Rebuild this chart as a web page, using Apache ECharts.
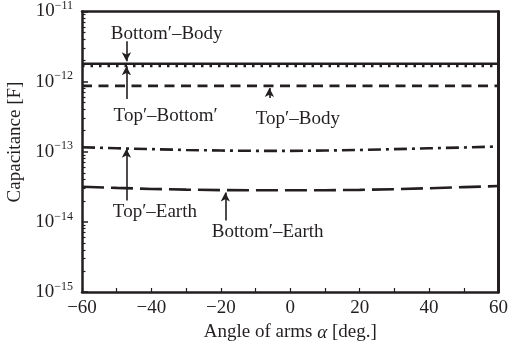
<!DOCTYPE html>
<html><head><meta charset="utf-8">
<script src="https://cdn.jsdelivr.net/npm/echarts@6/dist/echarts.min.js"></script>
<style>html,body{margin:0;padding:0;background:#fff}#c{width:511px;height:351px}</style>
</head><body><div id="c"></div>
<script>
// ---- data ----
const angles = [-60,-50,-40,-30,-20,-10,0,10,20,30,40,50,60];
const bottomBody  = [1.8e-12,1.8e-12,1.8e-12,1.8e-12,1.8e-12,1.8e-12,1.8e-12,1.8e-12,1.8e-12,1.8e-12,1.8e-12,1.8e-12,1.8e-12];
const topBottom   = [1.68e-12,1.68e-12,1.68e-12,1.68e-12,1.68e-12,1.68e-12,1.68e-12,1.68e-12,1.68e-12,1.68e-12,1.68e-12,1.68e-12,1.68e-12];
const topBody     = [0.87e-12,0.87e-12,0.87e-12,0.87e-12,0.87e-12,0.87e-12,0.87e-12,0.87e-12,0.87e-12,0.87e-12,0.87e-12,0.87e-12,0.87e-12];
const topEarth    = [1.16e-13,1.12e-13,1.09e-13,1.06e-13,1.04e-13,1.03e-13,1.03e-13,1.04e-13,1.06e-13,1.09e-13,1.12e-13,1.15e-13,1.19e-13];
const bottomEarth = [3.17e-14,3.05e-14,2.95e-14,2.88e-14,2.84e-14,2.82e-14,2.82e-14,2.83e-14,2.86e-14,2.92e-14,3.02e-14,3.13e-14,3.24e-14];
const seriesNames = ["Bottom′–Body","Top′–Bottom′","Top′–Body","Top′–Earth","Bottom′–Earth"];
const xTicks = [-60,-40,-20,0,20,40,60];
const yDecades = [1e-15,1e-14,1e-13,1e-12,1e-11];

// annotation text and arrows (in data coordinates)
const annotText = ["Bottom′–Body","Top′–Bottom′","Top′–Body","Top′–Earth","Bottom′–Earth"];
const annotTextAt = [[-35.6,4.72e-12],[-35.9,3.24e-13],[2.2,2.94e-13],[-39.0,1.36e-14],[-6.5,7.1e-15]];
const arrowFrom = [[-47.2,3.75e-12],[-47.2,5.65e-13],[-6.0,5.83e-13],[-47.2,2.02e-14],[-18.7,1.05e-14]];
const arrowTo   = [[-47.2,1.95e-12],[-47.2,1.66e-12],[-6.0,8.1e-13],[-47.2,1.10e-13],[-18.7,2.62e-14]];

// ---- chart ----
const FONT = '"Liberation Serif","Times New Roman",serif';
const INK = '#231f20';
const minorVals = [];
for (let e=-15;e<-11;e++) for (let k=2;k<=9;k++) minorVals.push(k*Math.pow(10,e));

const pair = (xs, ys) => xs.map((x,i)=>[x, ys[i]]);
const styles = [
  {type:'solid', width:2.6},
  {type:[2.5,6], width:2.6},
  {type:[10,6.5], width:2.6},
  {type:[13,5,3,5], width:2.6},
  {type:[22,7], width:2.6}
];
const datas = [bottomBody, topBottom, topBody, topEarth, bottomEarth];

const series = datas.map((d,i)=>({
  name: seriesNames[i], type:'line', symbol:'none', data: pair(angles,d),
  xAxisIndex:0, yAxisIndex:0,
  lineStyle:{color:INK, width:styles[i].width, type:styles[i].type},
  z: 3 + (i===1?1:0), animation:false
}));
series.push({
  type:'line', data:[], xAxisIndex:0, yAxisIndex:0, animation:false, silent:true,
  markLine:{
    silent:true, animation:false, symbol:['none','arrow'], symbolSize:[7,9],
    lineStyle:{color:INK, width:1.6, type:'solid'}, label:{show:false},
    data: arrowFrom.map((f,i)=>[{coord:f},{coord:arrowTo[i]}])
  },
  markPoint:{
    silent:true, animation:false, symbol:'rect', symbolSize:1,
    itemStyle:{color:'rgba(0,0,0,0)'},
    label:{show:true, position:'inside', color:INK, fontFamily:FONT, fontSize:19,
      formatter: p => p.name},
    data: annotText.map((t,i)=>({name:t, coord:annotTextAt[i]}))
  }
});

const chart = echarts.init(document.getElementById('c'), null, {renderer:'canvas'});
chart.setOption({
  animation:false,
  backgroundColor:'#fff',
  grid:{left:82, right:11, top:10, bottom:59, containLabel:false},
  xAxis:[{
    type:'value', min:-60, max:60, interval:20, position:'bottom',
    axisLine:{show:true, onZero:false, lineStyle:{color:INK, width:2.5}},
    axisTick:{show:true, inside:true, length:4, lineStyle:{color:INK, width:1.2}},
    minorTick:{show:true, splitNumber:2, length:4, lineStyle:{color:INK, width:1.2}},
    splitLine:{show:false},
    axisLabel:{color:INK, fontFamily:FONT, fontSize:19, margin:7,
      formatter: v => xTicks.includes(v) ? String(v).replace('-','−') : ''},
    name:'Angle of arms {i|α} [deg.]', nameLocation:'middle', nameGap:31,
    nameTextStyle:{color:INK, fontFamily:FONT, fontSize:19,
      rich:{i:{fontFamily:FONT, fontStyle:'italic', fontSize:19, color:INK}}}
  },{
    type:'value', min:-60, max:60, position:'top',
    axisLine:{show:true, onZero:false, lineStyle:{color:INK, width:2.5}},
    axisTick:{show:false}, axisLabel:{show:false}, splitLine:{show:false}
  }],
  yAxis:[{
    type:'log', logBase:10, min:1e-15, max:1e-11, position:'left',
    axisLine:{show:true, onZero:false, lineStyle:{color:INK, width:2.5}},
    axisTick:{show:true, inside:true, length:6, lineStyle:{color:INK, width:1.5}},
    splitLine:{show:false},
    axisLabel:{margin:9, color:INK, fontFamily:FONT,
      formatter: v => {
        const e = Math.round(Math.log10(v));
        return '{b|10}{s|−' + Math.abs(e) + '}';
      },
      rich:{
        b:{fontFamily:FONT, fontSize:19, color:INK},
        s:{fontFamily:FONT, fontSize:12, color:INK, padding:[0,0,11,0]}
      }
    }
  },{
    type:'log', logBase:10, min:1e-15, max:1e-11, position:'left',
    axisLine:{show:false, onZero:false},
    axisTick:{show:true, inside:true, length:3.5, customValues:minorVals, lineStyle:{color:INK, width:1.2}},
    axisLabel:{show:false}, splitLine:{show:false}
  },{
    type:'log', logBase:10, min:1e-15, max:1e-11, position:'right',
    axisLine:{show:true, onZero:false, lineStyle:{color:INK, width:3}},
    axisTick:{show:false}, axisLabel:{show:false}, splitLine:{show:false}
  }],
  graphic:[{
    type:'text', x:15, y:142, rotation:Math.PI/2,
    style:{text:'Capacitance [F]', fill:INK, font:'19px "Liberation Serif","Times New Roman",serif',
      textAlign:'center', textVerticalAlign:'middle'}
  }],
  series: series
});
</script></body></html>
